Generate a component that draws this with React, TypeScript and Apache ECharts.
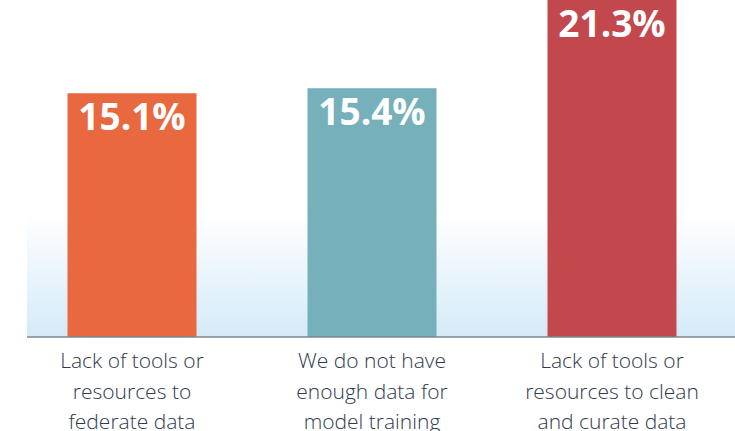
import React, { useEffect, useRef } from "react";
import * as echarts from "echarts";

const categories = [
  "Lack of tools or\nresources to\nfederate data",
  "We do not have\nenough data for\nmodel training",
  "Lack of tools or\nresources to clean\nand curate data",
];
const values = [15.1, 15.4, 21.3];
const barColors = ["#e8693f", "#75b0bb", "#c3484e"];

export default function App() {
  const ref = useRef<HTMLDivElement>(null);
  useEffect(() => {
    const chart = echarts.init(ref.current!, undefined, { renderer: "svg" });
    chart.setOption({
      animation: false,
      backgroundColor: "#ffffff",
      graphic: [
        {
          type: "rect",
          left: 27,
          top: 213,
          shape: { width: 708, height: 124 },
          z: -10,
          style: {
            fill: new echarts.graphic.LinearGradient(0, 0, 0, 1, [
              { offset: 0, color: "#ffffff" },
              { offset: 1, color: "#d4eaf7" },
            ]),
          },
        },
        {
          type: "line",
          shape: { x1: 27, y1: 337, x2: 735, y2: 337 },
          z: 10,
          style: { stroke: "#7d8791", lineWidth: 1.5 },
        },
      ],
      grid: { left: 12, right: 3, top: 14, bottom: 94, outerBoundsMode: "none", containLabel: false },
      xAxis: {
        type: "category",
        data: categories,
        axisLine: { show: false },
        axisTick: { show: false },
        axisLabel: {
          fontFamily: "Open Sans",
          fontWeight: 300,
          fontSize: 21,
          lineHeight: 30.5,
          color: "#2e3b4e",
          margin: 8,
          interval: 0,
        },
      },
      yAxis: {
        type: "value",
        min: 0,
        max: 20,
        show: false,
        splitLine: { show: false },
      },
      series: [
        {
          type: "bar",
          clip: false,
          barWidth: 129,
          data: values.map((v, i) => ({
            value: v,
            itemStyle: { color: barColors[i] },
            label: i === 2 ? { offset: [0, 7] } : undefined,
          })),
          label: {
            show: true,
            position: "insideTop",
            distance: 4,
            formatter: (p: any) => p.value.toFixed(1) + "%",
            fontFamily: "Open Sans",
            fontWeight: 700,
            fontSize: 37,
            color: "#ffffff",
          },
        },
      ],
    });
    return () => chart.dispose();
  }, []);
  return <div ref={ref} style={{ width: 735, height: 431, position: "absolute", left: 0, top: 0 }} />;
}
